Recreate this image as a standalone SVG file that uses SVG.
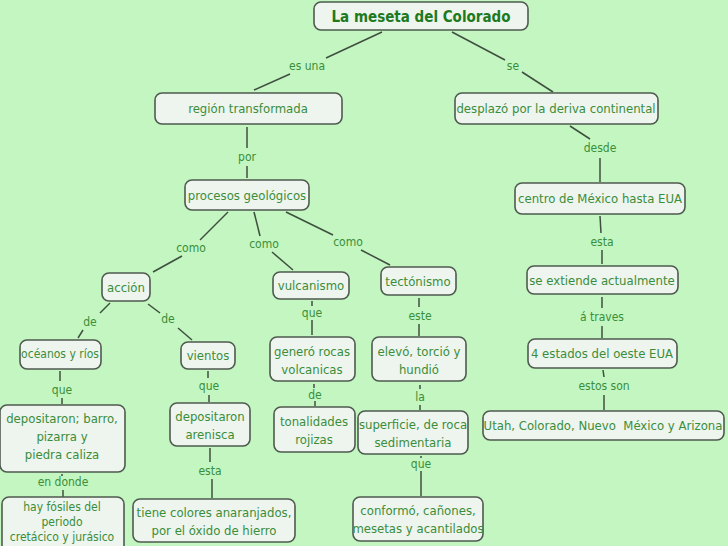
<svg xmlns="http://www.w3.org/2000/svg" width="728" height="546" viewBox="0 0 728 546">
<style>
.n rect{fill:#EEF4EE;stroke:#4F5A4F;stroke-width:1.6}
text{font-family:"DejaVu Sans Condensed","DejaVu Sans","Liberation Sans",sans-serif;font-stretch:condensed;fill:#3A8E3A;text-anchor:middle}
.t{font-size:13px}
.l{font-size:12px}
.h{font-size:15px;font-weight:bold;fill:#1E7A1E}
#c line{stroke:#3F4F3F;stroke-width:1.5}
</style>
<rect width="728" height="546" fill="#C3F6C0"/>
<g id="c">
<line x1="382" y1="32" x2="326" y2="58"/><line x1="290" y1="74" x2="254" y2="90"/>
<line x1="452" y1="32" x2="505" y2="60"/><line x1="522" y1="72" x2="553" y2="92"/>
<line x1="247" y1="127" x2="247" y2="148"/><line x1="247" y1="166" x2="247" y2="178"/>
<line x1="570" y1="126" x2="590" y2="139"/><line x1="600" y1="158" x2="600" y2="182"/>
<line x1="600" y1="216" x2="601" y2="233"/><line x1="602" y1="250" x2="602" y2="264"/>
<line x1="602" y1="297" x2="602" y2="308"/><line x1="602" y1="326" x2="602" y2="338"/>
<line x1="603" y1="370" x2="604" y2="377"/><line x1="604" y1="395" x2="604" y2="410"/>
<line x1="228" y1="212" x2="200" y2="240"/><line x1="182" y1="256" x2="153" y2="272"/>
<line x1="254" y1="212" x2="260" y2="236"/><line x1="272" y1="252" x2="293" y2="270"/>
<line x1="286" y1="212" x2="333" y2="235"/><line x1="361" y1="250" x2="390" y2="265"/>
<line x1="110" y1="303" x2="100" y2="313"/><line x1="83" y1="330" x2="78" y2="338"/>
<line x1="148" y1="304" x2="160" y2="313"/><line x1="178" y1="328" x2="192" y2="340"/>
<line x1="312" y1="301" x2="312" y2="306"/><line x1="312" y1="320" x2="312" y2="335"/>
<line x1="419" y1="298" x2="419" y2="307"/><line x1="419" y1="324" x2="419" y2="336"/>
<line x1="314" y1="384" x2="314" y2="388"/><line x1="315" y1="401" x2="315" y2="406"/>
<line x1="420" y1="385" x2="420" y2="389"/><line x1="420" y1="405" x2="420" y2="410"/>
<line x1="60" y1="371" x2="60" y2="381"/><line x1="62" y1="398" x2="62" y2="404"/>
<line x1="208" y1="371" x2="208" y2="378"/><line x1="209" y1="395" x2="209" y2="402"/>
<line x1="62" y1="474" x2="62" y2="476"/><line x1="63" y1="490" x2="63" y2="497"/>
<line x1="210" y1="448" x2="210" y2="462"/><line x1="212" y1="479" x2="212" y2="498"/>
<line x1="421" y1="456" x2="421" y2="458"/><line x1="421" y1="471" x2="421" y2="496"/>
</g>
<g id="labels">
<text class="l" x="307" y="70">es una</text>
<text class="l" x="513" y="70">se</text>
<text class="l" x="247" y="161">por</text>
<text class="l" x="600" y="152">desde</text>
<text class="l" x="602" y="246">esta</text>
<text class="l" x="602" y="321">á traves</text>
<text class="l" x="604" y="390">estos son</text>
<text class="l" x="191" y="252">como</text>
<text class="l" x="264" y="248">como</text>
<text class="l" x="348" y="246">como</text>
<text class="l" x="90" y="326">de</text>
<text class="l" x="168" y="323">de</text>
<text class="l" x="312" y="317">que</text>
<text class="l" x="420" y="320">este</text>
<text class="l" x="315" y="399">de</text>
<text class="l" x="420" y="401">la</text>
<text class="l" x="62" y="394">que</text>
<text class="l" x="209" y="390">que</text>
<text class="l" x="63" y="486">en donde</text>
<text class="l" x="210" y="475">esta</text>
<text class="l" x="421" y="468">que</text>
</g>
<g id="n1" class="n"><rect x="314" y="2" width="214" height="28" rx="7"/><text class="h" x="421" y="22">La meseta del Colorado</text></g>
<g id="n2" class="n"><rect x="155" y="93" width="187" height="31" rx="7"/><text class="t" x="248" y="113">región transformada</text></g>
<g id="n3" class="n"><rect x="455" y="93" width="203" height="31" rx="7"/><text class="t" x="556" y="113">desplazó por la deriva continental</text></g>
<g id="n4" class="n"><rect x="185" y="180" width="124" height="30" rx="7"/><text class="t" x="247" y="200">procesos geológicos</text></g>
<g id="n5" class="n"><rect x="515" y="183" width="170" height="31" rx="7"/><text class="t" x="600" y="203">centro de México hasta EUA</text></g>
<g id="n6" class="n"><rect x="102" y="273" width="48" height="28" rx="7"/><text class="t" x="126" y="292">acción</text></g>
<g id="n7" class="n"><rect x="273" y="272" width="76" height="27" rx="7"/><text class="t" x="311" y="290">vulcanismo</text></g>
<g id="n8" class="n"><rect x="381" y="267" width="75" height="28" rx="7"/><text class="t" x="418" y="286">tectónismo</text></g>
<g id="n9" class="n"><rect x="527" y="266" width="151" height="28" rx="7"/><text class="t" x="602" y="285">se extiende actualmente</text></g>
<g id="n10" class="n"><rect x="20" y="340" width="81" height="29" rx="7"/><text class="l" x="60" y="358">océanos y ríos</text></g>
<g id="n11" class="n"><rect x="181" y="342" width="54" height="27" rx="7"/><text class="t" x="208" y="360">vientos</text></g>
<g id="n12" class="n"><rect x="270" y="337" width="85" height="44" rx="7"/><text class="t" x="312" y="356">generó rocas</text><text class="t" x="312" y="374">volcanicas</text></g>
<g id="n13" class="n"><rect x="372" y="337" width="94" height="44" rx="7"/><text class="t" x="419" y="356">elevó, torció y</text><text class="t" x="419" y="374">hundió</text></g>
<g id="n14" class="n"><rect x="528" y="339" width="149" height="29" rx="7"/><text class="t" x="602" y="358">4 estados del oeste EUA</text></g>
<g id="n15" class="n"><rect x="0" y="405" width="125" height="67" rx="7"/><text class="t" x="62" y="423">depositaron; barro,</text><text class="t" x="62" y="441">pizarra y</text><text class="t" x="62" y="459">piedra caliza</text></g>
<g id="n16" class="n"><rect x="170" y="403" width="80" height="43" rx="7"/><text class="t" x="210" y="421">depositaron</text><text class="t" x="210" y="439">arenisca</text></g>
<g id="n17" class="n"><rect x="274" y="407" width="81" height="45" rx="7"/><text class="t" x="314" y="426">tonalidades</text><text class="t" x="314" y="444">rojizas</text></g>
<g id="n18" class="n"><rect x="358" y="411" width="110" height="43" rx="7"/><text class="t" x="413" y="429">superficie, de roca</text><text class="t" x="413" y="447">sedimentaria</text></g>
<g id="n19" class="n"><rect x="483" y="411" width="241" height="29" rx="7"/><text class="t" x="603" y="430">Utah, Colorado, Nuevo&#160; México y Arizona</text></g>
<g id="n20" class="n"><rect x="2" y="497" width="122" height="64" rx="7"/><text class="l" x="62" y="511">hay fósiles del</text><text class="l" x="62" y="526">periodo</text><text class="l" x="62" y="541">cretácico y jurásico</text></g>
<g id="n21" class="n"><rect x="133" y="499" width="162" height="43" rx="7"/><text class="t" x="214" y="517">tiene colores anaranjados,</text><text class="t" x="214" y="535">por el óxido de hierro</text></g>
<g id="n22" class="n"><rect x="353" y="497" width="130" height="44" rx="7"/><text class="t" x="418" y="515">conformó, cañones,</text><text class="t" x="418" y="533">mesetas y acantilados</text></g>
</svg>
